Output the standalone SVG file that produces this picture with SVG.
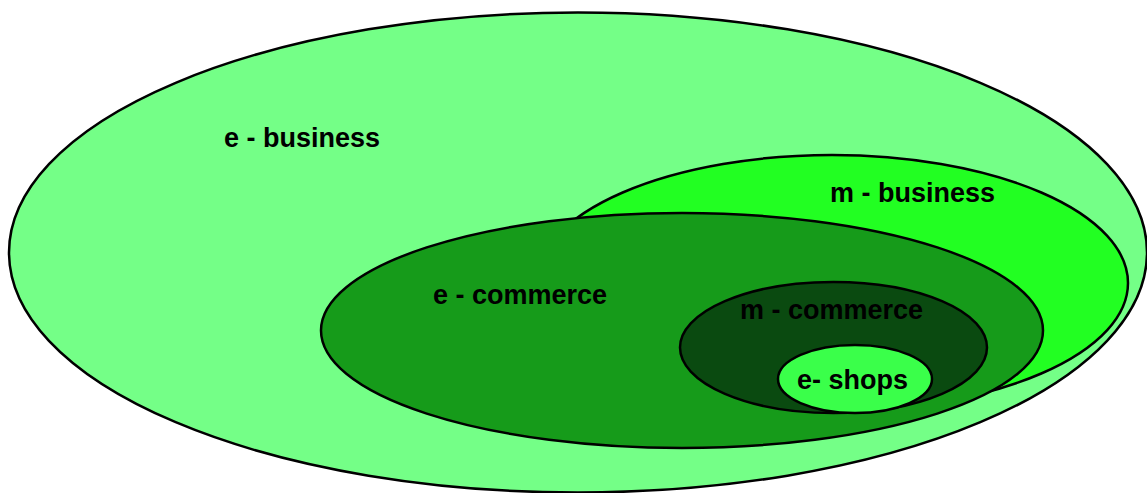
<svg xmlns="http://www.w3.org/2000/svg" width="1147" height="493" viewBox="0 0 1147 493">
<style>
.set{stroke:#000;stroke-width:2.5}
.lbl{font-family:"Liberation Sans",Arial,sans-serif;font-weight:bold;font-size:27px;fill:#000}
</style>
<rect width="1147" height="493" fill="#fff"/>
<g id="e-business">
<ellipse class="set" cx="578" cy="252.5" rx="569" ry="240" fill="#74FF87"/>
<text class="lbl" x="224" y="147">e - business</text>
</g>
<g id="m-business">
<ellipse class="set" cx="832" cy="283" rx="296" ry="128" fill="#22FF22"/>
<text class="lbl" x="830" y="202">m - business</text>
</g>
<g id="e-commerce">
<ellipse class="set" cx="682" cy="330.5" rx="361" ry="117.5" fill="#169B1A"/>
<text class="lbl" x="433" y="304">e - commerce</text>
</g>
<g id="m-commerce">
<ellipse class="set" cx="833.5" cy="347.5" rx="153.5" ry="65.5" fill="#0A4A10"/>
<text class="lbl" x="740" y="319">m - commerce</text>
</g>
<g id="e-shops">
<ellipse class="set" cx="855" cy="379" rx="77" ry="34" fill="#3AFF4A"/>
<text class="lbl" x="797" y="389">e- shops</text>
</g>
<g id="connectors"/>
</svg>
